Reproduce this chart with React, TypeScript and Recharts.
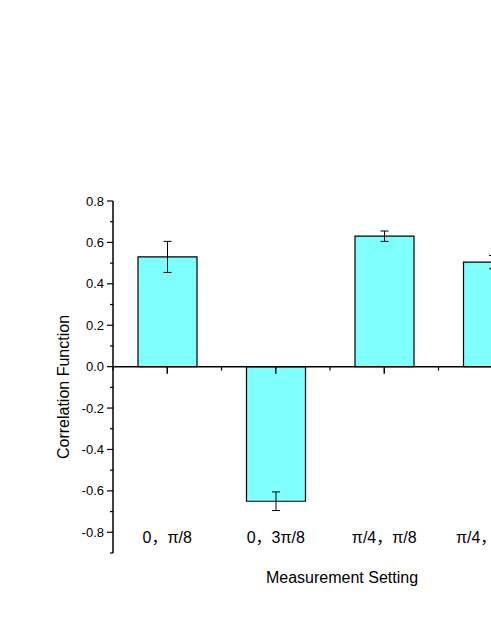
import { BarChart, Bar, XAxis, YAxis, ErrorBar, ReferenceLine, Label } from "recharts";

// measurement settings (a, b) and measured correlation with its error
const settings = ["0，π/8", "0，3π/8", "π/4，π/8", "π/4，3π/8"];
const correlation = [0.53, -0.65, 0.63, 0.505];
const errors = [0.075, 0.045, 0.025, 0.032];

// y ticks every 0.1, labels on every second one
const yTicks = [-0.9, -0.8, -0.7, -0.6, -0.5, -0.4, -0.3, -0.2, -0.1, 0, 0.1, 0.2, 0.3, 0.4, 0.5, 0.6, 0.7, 0.8];

const data = settings.map((s, i) => ({ setting: s, value: correlation[i], err: errors[i] }));

const FONT = "'Liberation Sans', Arial, 'Noto Sans CJK SC', sans-serif";

// tick lengths on the zero line, in data units
const MAJOR_TICK = 0.034;
const MINOR_TICK = 0.019;

function YTick(props: any) {
  const { x, y, payload } = props;
  const v = payload.value;
  const major = Math.round(v * 10) % 2 === 0;
  return (
    <g>
      <line x1={x} x2={x - (major ? 6 : 3)} y1={y} y2={y} stroke="#000" strokeWidth={1.2} />
      {major && (
        <text x={x - 9} y={y} dy={4.5} textAnchor="end" fontSize={13} fontFamily={FONT} fill="#000">
          {v.toFixed(1)}
        </text>
      )}
    </g>
  );
}

function XTick(props: any) {
  const { x, y, payload } = props;
  return (
    <text x={x} y={y - 10} textAnchor="middle" fontSize={16} fontFamily={FONT} fill="#000">
      {payload.value}
    </text>
  );
}

export default function App() {
  return (
    <div style={{ position: "absolute", left: 0, top: 0, width: 491, height: 635, overflow: "hidden", background: "#fff" }}>
      <BarChart width={560} height={635} data={data} margin={{ top: 201, right: 13, bottom: 52, left: 53 }}>
        <XAxis
          dataKey="setting"
          height={30}
          axisLine={false}
          tickLine={false}
          tickSize={0}
          tickMargin={0}
          interval={0}
          tick={<XTick />}
        >
          <Label
            content={(p: any) => (
              <text
                x={p.viewBox.x + p.viewBox.width / 2 + 12}
                y={p.viewBox.y + p.viewBox.height}
                textAnchor="middle"
                fontSize={16}
                fontFamily={FONT}
                fill="#000"
              >
                Measurement Setting
              </text>
            )}
          />
        </XAxis>
        <YAxis
          type="number"
          width={60}
          domain={[-0.9, 0.8]}
          ticks={yTicks}
          interval={0}
          allowDataOverflow
          axisLine={{ stroke: "#000", strokeWidth: 1.5 }}
          tickLine={false}
          tickSize={0}
          tickMargin={0}
          tick={<YTick />}
        >
          <Label
            content={(p: any) => (
              <text
                transform={`translate(${p.viewBox.x + 16}, ${p.viewBox.y + p.viewBox.height / 2 + 10}) rotate(-90)`}
                textAnchor="middle"
                fontSize={16}
                fontFamily={FONT}
                fill="#000"
              >
                Correlation Function
              </text>
            )}
          />
        </YAxis>
        <Bar dataKey="value" fill="#80FFFF" stroke="#000" strokeWidth={1.2} barSize={59} isAnimationActive={false}>
          <ErrorBar dataKey="err" width={4} stroke="#000" strokeWidth={1} isAnimationActive={false} />
        </Bar>
        <ReferenceLine y={0} stroke="#000" strokeWidth={1.5} />
        {settings.map((s) => (
          <ReferenceLine
            key={"major" + s}
            segment={[{ x: s, y: 0 }, { x: s, y: -MAJOR_TICK }]}
            stroke="#000"
            strokeWidth={1.5}
          />
        ))}
        {settings.map((s) => (
          <ReferenceLine
            key={"minor" + s}
            position="start"
            segment={[{ x: s, y: 0 }, { x: s, y: -MINOR_TICK }]}
            stroke="#000"
            strokeWidth={1.2}
          />
        ))}
      </BarChart>
    </div>
  );
}
